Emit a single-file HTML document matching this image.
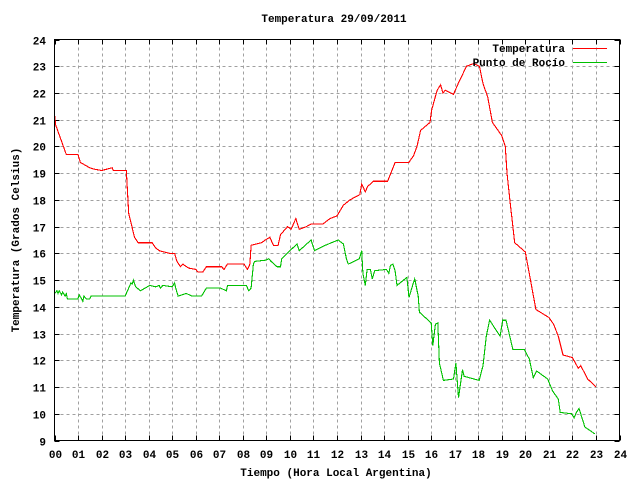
<!DOCTYPE html>
<html><head><meta charset="utf-8"><style>
body{margin:0;background:#fff}
svg text{font-family:"Liberation Mono",monospace;font-weight:bold;font-size:11px;fill:#000}
</style></head><body>
<svg id="c" width="640" height="480" viewBox="0 0 640 480">
<rect width="640" height="480" fill="#fff"/>
<text x="334" y="22" text-anchor="middle">Temperatura 29/09/2011</text>
<text x="336" y="476" text-anchor="middle">Tiempo (Hora Local Argentina)</text>
<text transform="translate(19,240) rotate(-90)" text-anchor="middle">Temperatura (Grados Celsius)</text>
<g id="grid" shape-rendering="crispEdges"></g>
<g id="ticks"></g>
<g id="series"></g>
<rect x="54.5" y="39.5" width="565" height="401" fill="none" stroke="#000" stroke-width="1" shape-rendering="crispEdges"/>
<g>
<text x="565" y="52" text-anchor="end">Temperatura</text>
<line x1="573" y1="48.5" x2="607" y2="48.5" stroke="#f00"/>
<text x="565" y="66" text-anchor="end">Punto de Rocío</text>
<line x1="573" y1="62.5" x2="607" y2="62.5" stroke="#00c000"/>
</g>
</svg>
<script>
const xTicks=["00","01","02","03","04","05","06","07","08","09","10","11","12","13","14","15","16","17","18","19","20","21","22","23","24"];
const yTicks=[9,10,11,12,13,14,15,16,17,18,19,20,21,22,23,24];
const tempHours=[0,0.05,0.5,1.0,1.1,1.3,1.5,1.7,2.0,2.45,2.5,3.05,3.15,3.4,3.55,4.15,4.3,4.45,4.9,5.1,5.2,5.35,5.45,5.7,6.0,6.1,6.3,6.45,7.1,7.2,7.35,8.05,8.2,8.3,8.35,8.8,8.95,9.15,9.3,9.5,9.6,9.9,10.05,10.25,10.4,10.7,10.9,11.4,11.7,12.0,12.27,12.55,12.97,13.05,13.2,13.3,13.55,14.15,14.47,15.05,15.25,15.4,15.55,15.95,16.02,16.25,16.4,16.5,16.6,16.95,17.15,17.5,17.8,18.05,18.2,18.4,18.6,19.0,19.15,19.22,19.36,19.55,20.0,20.2,20.45,21.0,21.2,21.4,21.6,22.0,22.25,22.35,22.65,23.0];
const tempValues=[21.2,20.8,19.7,19.7,19.4,19.3,19.2,19.15,19.1,19.2,19.1,19.1,17.5,16.6,16.4,16.4,16.2,16.1,16.0,16.0,15.7,15.5,15.6,15.45,15.4,15.3,15.3,15.5,15.5,15.4,15.6,15.6,15.4,15.6,16.3,16.4,16.5,16.6,16.3,16.3,16.7,17.0,16.9,17.3,16.9,17.0,17.1,17.1,17.3,17.4,17.8,18.0,18.2,18.6,18.3,18.5,18.7,18.7,19.4,19.4,19.65,20.0,20.6,20.9,21.35,22.1,22.3,22.0,22.1,21.95,22.35,23.0,23.1,23.0,22.35,21.85,20.9,20.4,20.0,19.0,17.85,16.4,16.05,15.1,13.9,13.6,13.35,12.9,12.2,12.1,11.7,11.8,11.3,11.0];
const dewHours=[0,0.1,0.15,0.2,0.3,0.35,0.45,0.5,0.55,1.0,1.05,1.15,1.2,1.25,1.35,1.5,1.55,3.0,3.15,3.25,3.3,3.35,3.45,3.65,4.05,4.3,4.45,4.5,4.6,5.0,5.1,5.15,5.25,5.6,5.85,6.25,6.45,7.05,7.3,7.35,8.15,8.25,8.35,8.45,8.5,9.0,9.1,9.2,9.45,9.6,9.65,10.0,10.3,10.4,10.65,10.9,11.05,11.5,12.05,12.27,12.4,12.48,12.95,13.05,13.1,13.2,13.28,13.42,13.5,13.6,14.1,14.2,14.27,14.37,14.47,14.55,14.97,15.06,15.23,15.3,15.45,15.5,16.0,16.07,16.18,16.28,16.35,16.52,16.95,17.05,17.16,17.33,17.4,18.04,18.2,18.34,18.48,18.93,19.04,19.18,19.47,19.96,20.17,20.34,20.48,20.95,21.16,21.4,21.48,21.97,22.07,22.17,22.28,22.53,22.95];
const dewValues=[14.5,14.6,14.5,14.6,14.45,14.55,14.4,14.5,14.3,14.3,14.45,14.3,14.2,14.4,14.3,14.3,14.4,14.4,14.7,14.9,14.85,15.0,14.75,14.6,14.8,14.75,14.8,14.7,14.8,14.75,14.9,14.7,14.4,14.5,14.4,14.4,14.7,14.7,14.6,14.8,14.8,14.6,14.7,15.6,15.7,15.75,15.8,15.7,15.5,15.5,15.8,16.1,16.35,16.1,16.3,16.5,16.1,16.3,16.5,16.35,15.8,15.6,15.8,16.1,15.25,14.8,15.4,15.4,15.05,15.35,15.4,15.25,15.55,15.6,15.35,14.8,15.1,14.35,14.85,15.05,14.4,13.8,13.4,12.55,13.35,13.4,11.9,11.25,11.3,11.9,10.6,11.65,11.4,11.25,11.8,12.9,13.5,12.9,13.5,13.5,12.4,12.4,12.05,11.35,11.6,11.3,10.85,10.55,10.05,10.0,9.85,10.05,10.2,9.5,9.25];
const X0=54.5,X1=619.5,Y0=440.5,Y1=39.5,XMAX=24,YMIN=9,YMAX=24;
const NS="http://www.w3.org/2000/svg";
function sx(h){return X0+(X1-X0)*h/XMAX;}
function sy(v){return Y0-(Y0-Y1)*(v-YMIN)/(YMAX-YMIN);}
function mk(t,a,p){const e=document.createElementNS(NS,t);for(const k in a)e.setAttribute(k,a[k]);p.appendChild(e);return e;}
const grid=document.getElementById('grid'),ticks=document.getElementById('ticks'),series=document.getElementById('series');
xTicks.forEach((t,i)=>{const x=Math.round(sx(i))+0.5;
 if(i>0&&i<xTicks.length-1){const g=mk('line',{x1:x,y1:Y0,x2:x,y2:Y1,stroke:'#a0a0a0','stroke-dasharray':'3,3'},grid);
 
 }
 const a=mk('line',{x1:x,y1:Y0,x2:x,y2:Y0-5,stroke:'#000','shape-rendering':'crispEdges'},ticks);
 
 
 const b=mk('line',{x1:x,y1:Y1,x2:x,y2:Y1+5,stroke:'#000','shape-rendering':'crispEdges'},ticks);
 
 
 const l=mk('text',{x:x,y:458,'text-anchor':'middle'},ticks);l.textContent=t;
 
 });
yTicks.forEach((v)=>{const y=Math.round(sy(v))+0.5;
 if(v>YMIN&&v<YMAX){const g=mk('line',{x1:X0,y1:y,x2:X1,y2:y,stroke:'#a0a0a0','stroke-dasharray':'3,3'},grid);
 
 }
 const a=mk('line',{x1:X0,y1:y,x2:X0+5,y2:y,stroke:'#000','shape-rendering':'crispEdges'},ticks);
 
 
 const b=mk('line',{x1:X1,y1:y,x2:X1-5,y2:y,stroke:'#000','shape-rendering':'crispEdges'},ticks);
 
 
 const l=mk('text',{x:46,y:y+4,'text-anchor':'end'},ticks);l.textContent=v;
 
 });
function line(hs,vs,col,name){const pts=hs.map((h,i)=>sx(h).toFixed(1)+','+sy(vs[i]).toFixed(1)).join(' ');
 const p=mk('polyline',{points:pts,fill:'none',stroke:col,'stroke-width':1.1,'shape-rendering':'optimizeSpeed'},series);
 
 }
line(tempHours,tempValues,'#f00','temperatura-line');
line(dewHours,dewValues,'#00c000','punto-de-rocio-line');
</script>
</body></html>
